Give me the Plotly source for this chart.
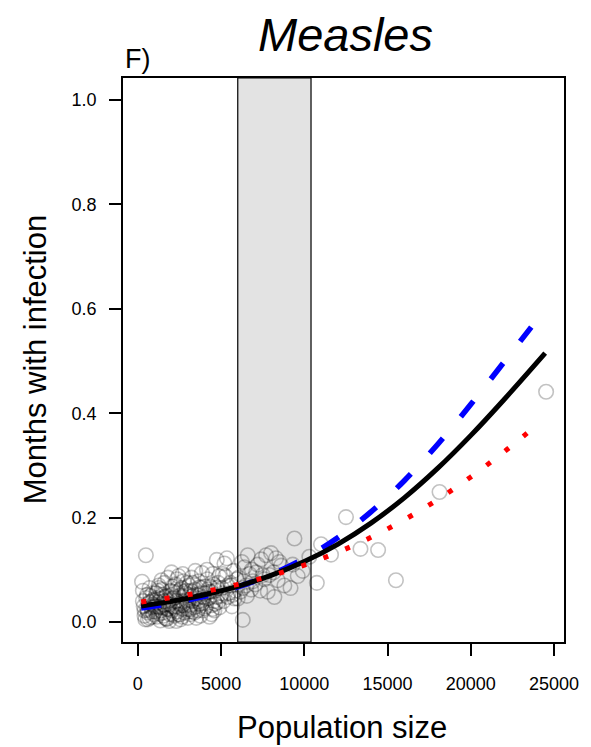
import plotly.graph_objects as go

# ---- data ----
pop_x = [250,300,350,400,480,500,550,600,650,700,750,800,850,900,950,300,450,700,900,600,
         1050,1100,1150,1200,1250,1300,1350,1400,1450,1500,1550,1600,1650,1700,1750,1800,1850,1900,1950,1120,1380,1620,1880,1260,1540,1760,1420,1960,1080,1700,
         2020,2080,2140,2200,2260,2320,2380,2440,2500,2560,2620,2680,2740,2800,2860,2920,2980,2100,2300,2500,2700,2900,2150,2450,2750,2350,2650,2950,2050,2550,
         3020,3080,3150,3220,3290,3360,3430,3500,3570,3640,3710,3780,3850,3920,3990,3100,3300,3550,3750,3950,3200,3650,3450,3850,3050,
         4020,4100,4180,4260,4340,4420,4500,4580,4660,4740,4820,4900,4980,4150,4400,4650,4880,4300,4550,4750,
         5050,5150,5250,5350,5450,5550,5650,5750,5850,5950,5200,5400,5600,5800,5100,
         6050,6150,6300,6400,6500,6600,6700,6800,6900,6250,6550,6850,
         7050,7200,7350,7500,7700,7800,7900,7400,7600,7100,
         8000,8200,8300,8400,8600,8800,8150,8500,
         9170,9405,9600,9900,10300,9300,
         10750,11000,11600,12500,13370,14430,15500,18120,24520,
         400,550,700,850,1000,1150,1300,1450,1600,1750,1900,2050,2200,2350,2500,2650,2800,2950,3100,3250,
         3400,3550,3700,3850,4000,4150,4300,4450,4600,4750,
         600,900,1200,1500,1800,2100,2400,2700,3000,3300,3600,3900,4200,4500,4800,5100,5400,5700,6000,6300]
months_y = [0.077,0.040,0.030,0.012,0.128,0.046,0.025,0.018,0.035,0.008,0.050,0.028,0.020,0.042,0.015,0.060,0.005,0.065,0.033,0.022,
            0.020,0.055,0.010,0.038,0.070,0.028,0.003,0.045,0.062,0.018,0.033,0.075,0.008,0.050,0.025,0.085,0.040,0.015,0.060,0.030,0.022,0.048,0.002,0.065,0.012,0.035,0.080,0.044,0.042,0.006,
            0.095,0.030,0.058,0.012,0.072,0.040,0.020,0.088,0.050,0.005,0.065,0.032,0.078,0.018,0.055,0.042,0.025,0.068,0.002,0.035,0.092,0.060,0.045,0.015,0.048,0.082,0.010,0.075,0.052,0.062,
            0.038,0.070,0.015,0.085,0.050,0.028,0.062,0.008,0.045,0.078,0.035,0.055,0.094,0.022,0.068,0.052,0.075,0.030,0.012,0.048,0.060,0.040,0.098,0.065,0.020,
            0.055,0.030,0.082,0.045,0.068,0.015,0.092,0.040,0.060,0.119,0.075,0.028,0.050,0.100,0.058,0.035,0.088,0.010,0.072,0.048,
            0.065,0.040,0.088,0.122,0.055,0.075,0.030,0.098,0.060,0.082,0.112,0.048,0.070,0.045,0.092,
            0.085,0.058,0.004,0.105,0.070,0.128,0.092,0.062,0.078,0.115,0.050,0.100,
            0.072,0.110,0.060,0.090,0.128,0.058,0.090,0.120,0.082,0.095,
            0.132,0.048,0.122,0.080,0.108,0.070,0.095,0.115,
            0.065,0.160,0.088,0.098,0.125,0.110,
            0.075,0.149,0.129,0.201,0.140,0.138,0.080,0.249,0.441,
            0.022,0.052,0.038,0.010,0.030,0.046,0.016,0.028,0.040,0.006,0.034,0.022,0.048,0.030,0.014,0.040,0.058,0.032,0.024,0.040,
            0.018,0.052,0.066,0.036,0.026,0.045,0.058,0.032,0.022,0.065,
            0.005,0.055,0.060,0.052,0.025,0.015,0.058,0.025,0.008,0.020,0.022,0.042,0.062,0.025,0.038,0.055,0.070,0.052,0.045,0.065]

black_x = [200,2000,4000,6000,8000,10000,12000,14000,16000,18000,20000,22000,24464]
black_y = [0.0308,0.0395,0.0521,0.0684,0.0893,0.1158,0.1488,0.1894,0.2378,0.2942,0.3575,0.4263,0.515]

blue_x = [200,2000,4000,6000,8000,10000,12000,14000,16000,18000,20000,22000,23630]
blue_y = [0.0270,0.0360,0.0492,0.0671,0.0908,0.1218,0.1614,0.2110,0.2707,0.3401,0.4170,0.4983,0.5649]

red_x = [200,2000,4000,6000,8000,10000,12000,14000,16000,18000,20000,22000,23810]
red_y = [0.0384,0.0468,0.0581,0.0720,0.0888,0.1091,0.1335,0.1622,0.1958,0.2343,0.2779,0.3261,0.3731]

band = [6000, 10400]
x_ticks = [0, 5000, 10000, 15000, 20000, 25000]
x_ticktext = ["0", "5000", "10000", "15000", "20000", "25000"]
y_ticks = [0.0, 0.2, 0.4, 0.6, 0.8, 1.0]
y_ticktext = ["0.0", "0.2", "0.4", "0.6", "0.8", "1.0"]

FONT = "Liberation Sans, Arial, Helvetica, sans-serif"

fig = go.Figure()

fig.add_trace(go.Scatter(
    x=pop_x, y=months_y, mode="markers",
    marker=dict(symbol="circle-open", size=14.5, color="rgba(0,0,0,0.24)",
                line=dict(width=1.6, color="rgba(0,0,0,0.24)")),
    hoverinfo="skip", showlegend=False))

fig.add_trace(go.Scatter(x=blue_x, y=blue_y, mode="lines",
    line=dict(color="#0000ff", width=5.5, dash="20px,28px", shape="spline"),
    showlegend=False))
fig.add_trace(go.Scatter(x=black_x, y=black_y, mode="lines",
    line=dict(color="black", width=5, shape="spline"), showlegend=False))
fig.add_trace(go.Scatter(x=red_x, y=red_y, mode="lines",
    line=dict(color="#ff0000", width=5, dash="5px,18.5px", shape="spline"),
    showlegend=False))

fig.add_shape(type="rect", xref="x", yref="paper", x0=band[0], x1=band[1], y0=0, y1=1,
              fillcolor="#e3e3e3", line=dict(color="black", width=1.2), layer="below")

fig.update_layout(
    width=583, height=739,
    margin=dict(l=115, r=25, t=70, b=105),
    plot_bgcolor="white", paper_bgcolor="white",
    font=dict(family=FONT, color="black"),
    showlegend=False,
    xaxis=dict(range=[-893, 25595], tickvals=x_ticks, ticktext=x_ticktext,
               ticks="outside", ticklen=12,
               tickwidth=1.5, tickcolor="black", showline=True, linecolor="black",
               linewidth=1.5, mirror=True, showgrid=False, zeroline=False,
               tickfont=dict(size=18), ticklabelstandoff=13),
    yaxis=dict(range=[-0.0383, 1.0421], tickvals=y_ticks, ticktext=y_ticktext,
               ticks="outside", ticklen=12, tickwidth=1.5, tickcolor="black",
               showline=True, linecolor="black", linewidth=1.5, mirror=True,
               showgrid=False, zeroline=False, tickfont=dict(size=18),
               ticklabelstandoff=9),
    annotations=[
        dict(text="Population size", xref="paper", yref="paper", x=0.497, y=-0.152,
             xanchor="center", yanchor="middle", showarrow=False, font=dict(size=31)),
        dict(text="Months with infection", xref="paper", yref="paper", x=-0.199, y=0.5,
             xanchor="center", yanchor="middle", textangle=-90, showarrow=False,
             font=dict(size=31)),
        dict(text="<i>Measles</i>", xref="paper", yref="paper", x=0.505, y=1.078,
             xanchor="center", yanchor="middle", showarrow=False, font=dict(size=47)),
        dict(text="F)", xref="paper", yref="paper", x=0.0, y=1.034,
             xanchor="left", yanchor="middle", showarrow=False, font=dict(size=27)),
    ],
)

fig.write_html("out.html")
